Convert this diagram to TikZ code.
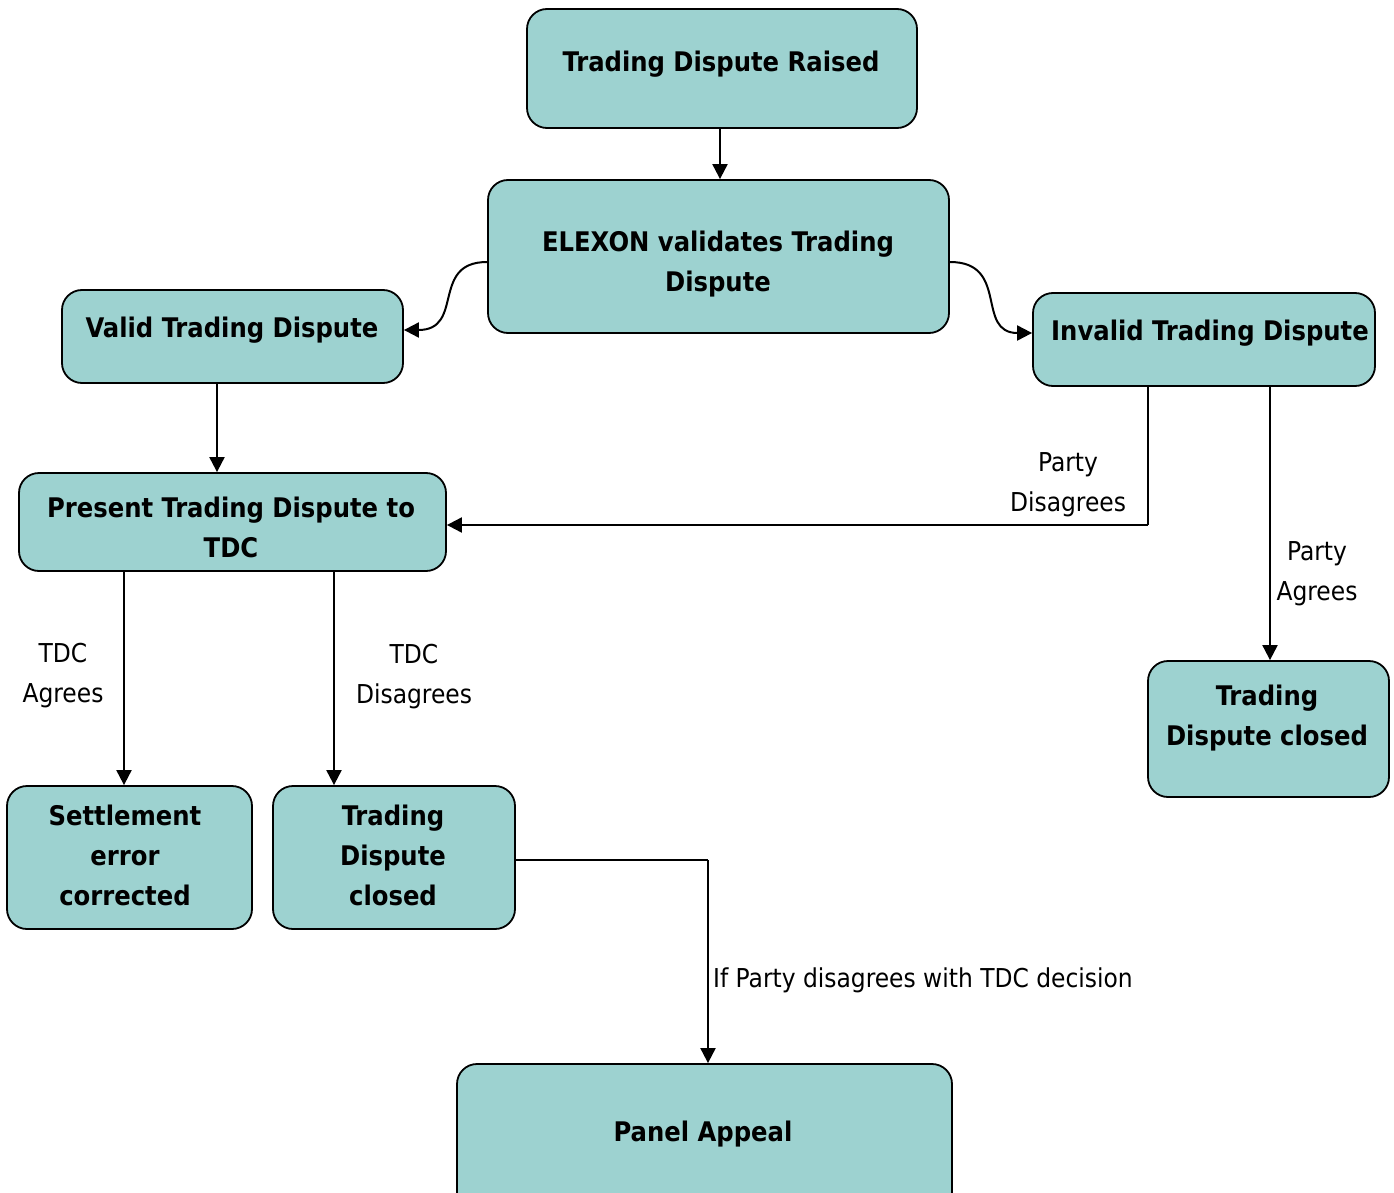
\documentclass[tikz,border=0pt]{standalone}
\usepackage{fontspec}
\setmainfont{DejaVu Sans Condensed}
\usetikzlibrary{arrows.meta}
\definecolor{boxfill}{HTML}{9DD2D0}
\tikzset{
  box/.style={draw=black, line width=1.8pt, fill=boxfill, rounded corners=20pt, inner sep=0pt},
  boxtext/.style={align=center, font=\fontsize{27}{40}\selectfont\bfseries, inner sep=0pt},
  conn/.style={draw=black, line width=2pt, -{Triangle[length=15pt,width=15pt]}},
  plainline/.style={draw=black, line width=2pt},
  lbl/.style={align=center, font=\fontsize{26}{40}\selectfont, inner sep=0pt}
}
\begin{document}
\begin{tikzpicture}[x=1pt,y=-1pt]
\useasboundingbox (0,0) rectangle (1394,1193);
\begin{scope}
\clip (0,0) rectangle (1394,1193);
\node[box, minimum width=390pt, minimum height=119pt] (raised) at (722,68.5) {};
\node[box, minimum width=461pt, minimum height=153pt] (elexon) at (718.5,256.5) {};
\node[box, minimum width=341pt, minimum height=93pt] (valid) at (232.5,336.5) {};
\node[box, minimum width=342pt, minimum height=93pt] (invalid) at (1204,339.5) {};
\node[box, minimum width=427pt, minimum height=98pt] (present) at (232.5,522) {};
\node[box, minimum width=241pt, minimum height=136pt] (closedR) at (1268.5,729) {};
\node[box, minimum width=245pt, minimum height=143pt] (settle) at (129.5,857.5) {};
\node[box, minimum width=242pt, minimum height=143pt] (closedM) at (394,857.5) {};
\node[box, minimum width=495pt, minimum height=150pt] (panel) at (704.5,1139) {};
\end{scope}
\node[boxtext] (raisedT) at (721,64) {Trading Dispute Raised};
\node[boxtext] (elexonT) at (718,264) {ELEXON validates Trading\\Dispute};
\node[boxtext] (validT) at (232,330) {Valid Trading Dispute};
\node[boxtext] (invalidT) at (1210,333) {Invalid Trading Dispute};
\node[boxtext] (presentT) at (231,527) {Present Trading Dispute to\\TDC};
\node[boxtext] (closedRT) at (1267,718) {Trading\\Dispute closed};
\node[boxtext] (settleT) at (125,855) {Settlement\\error\\corrected};
\node[boxtext] (closedMT) at (393,855) {Trading\\Dispute\\closed};
\node[boxtext] (panelT) at (703,1134) {Panel Appeal};

\draw[conn] (raised.south -| 720,0) -- (elexon.north -| 720,0);
\draw[conn] (elexon.west |- 0,262) .. controls (430,262) and (465,330) .. (valid.east |- 0,330);
\draw[conn] (elexon.east |- 0,262) .. controls (1010,262) and (975,333) .. (invalid.west |- 0,333);
\draw[conn] (valid.south -| 217,0) -- (present.north -| 217,0);
\coordinate (turn1) at (1148,525);
\draw[plainline] (invalid.south -| turn1) -- (turn1);
\draw[conn] (turn1) -- (present.east |- turn1);
\draw[conn] (invalid.south -| 1270,0) -- (closedR.north -| 1270,0);
\draw[conn] (present.south -| 124,0) -- (settle.north -| 124,0);
\draw[conn] (present.south -| 334,0) -- (closedM.north -| 334,0);
\coordinate (turn2) at (708,860);
\draw[plainline] (closedM.east |- turn2) -- (turn2);
\draw[conn] (turn2) -- (panel.north -| turn2);

\node[lbl] (lblPD) at (1068,485) {Party\\Disagrees};
\node[lbl] (lblPA) at (1317,574) {Party\\Agrees};
\node[lbl] (lblTA) at (63,676) {TDC\\Agrees};
\node[lbl] (lblTD) at (414,677) {TDC\\Disagrees};
\node[lbl, anchor=west] (lblIf) at (713,980) {If Party disagrees with TDC decision};
\end{tikzpicture}
\end{document}
